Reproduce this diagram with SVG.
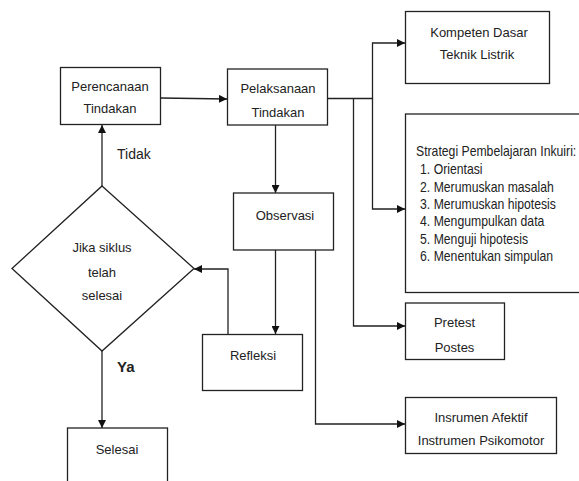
<svg xmlns="http://www.w3.org/2000/svg" width="579" height="481" viewBox="0 0 579 481">
<style>
.box{fill:#fff;stroke:#222;stroke-width:1.3}
.t{font-family:"Liberation Sans",Arial,sans-serif;font-size:13px;fill:#222;text-anchor:middle}
.s{font-family:"Liberation Sans",Arial,sans-serif;font-size:15px;fill:#222}
.lbl{font-family:"Liberation Sans",Arial,sans-serif;font-size:14px;fill:#222}
.c{fill:none;stroke:#222;stroke-width:1.3}
</style>
<defs>
<marker id="ah" markerUnits="userSpaceOnUse" markerWidth="8" markerHeight="8" refX="8" refY="4" orient="auto">
<path d="M0,0 L8,4 L0,8 z" fill="#111"/>
</marker>
</defs>
<rect width="579" height="481" fill="#fff"/>
<g id="connectors">
<path class="c" d="M161,98 L227,99" marker-end="url(#ah)"/>
<path class="c" d="M102,186 V125" marker-end="url(#ah)"/>
<path class="c" d="M275.5,125 V193" marker-end="url(#ah)"/>
<path class="c" d="M275.5,250 V334" marker-end="url(#ah)"/>
<path class="c" d="M228,334 V269 H194" marker-end="url(#ah)"/>
<path class="c" d="M102,351 V428" marker-end="url(#ah)"/>
<path class="c" d="M327,98.5 H372.5 V43 H405" marker-end="url(#ah)"/>
<path class="c" d="M372.5,98.5 V209 H405" marker-end="url(#ah)"/>
<path class="c" d="M353.5,98.5 V326 H405" marker-end="url(#ah)"/>
<path class="c" d="M315.5,250 V424 H405" marker-end="url(#ah)"/>
</g>
<g id="perencanaan">
<rect class="box" x="60.5" y="67.5" width="100" height="57"/>
<text class="t" x="110" y="90.5">Perencanaan</text>
<text class="t" x="110" y="113">Tindakan</text>
</g>
<g id="pelaksanaan">
<rect class="box" x="227.5" y="69" width="100" height="56"/>
<text class="t" x="278" y="93">Pelaksanaan</text>
<text class="t" x="278" y="116.5">Tindakan</text>
</g>
<g id="observasi">
<rect class="box" x="233.5" y="193" width="100" height="57"/>
<text class="t" x="285" y="219.5">Observasi</text>
</g>
<g id="refleksi">
<rect class="box" x="202.5" y="334.5" width="100" height="56"/>
<text class="t" x="253" y="359.5">Refleksi</text>
</g>
<g id="keputusan">
<polygon class="box" points="102,186 194,268.5 102,351 12,268.5"/>
<text class="t" x="102" y="251.5">Jika siklus</text>
<text class="t" x="102" y="276.5">telah</text>
<text class="t" x="102" y="299.5">selesai</text>
</g>
<g id="selesai">
<rect class="box" x="67.5" y="428" width="100" height="70"/>
<text class="t" x="117" y="453.5">Selesai</text>
</g>
<g id="kompeten">
<rect class="box" x="405.5" y="11.5" width="144" height="72"/>
<text class="t" x="479" y="36.5">Kompeten Dasar</text>
<text class="t" x="477" y="58.5">Teknik Listrik</text>
</g>
<g id="strategi">
<rect class="box" x="405.5" y="114" width="190" height="178.5"/>
<g transform="matrix(0.815,0,0,1,416,0)">
<text class="s" x="0" y="156.5">Strategi Pembelajaran Inkuiri:</text>
<text class="s" x="5" y="174.5">1. Orientasi</text>
<text class="s" x="5" y="191.8">2. Merumuskan masalah</text>
<text class="s" x="5" y="209.1">3. Merumuskan hipotesis</text>
<text class="s" x="5" y="226.4">4. Mengumpulkan data</text>
<text class="s" x="5" y="243.7">5. Menguji hipotesis</text>
<text class="s" x="5" y="261">6. Menentukan simpulan</text>
</g>
</g>
<g id="pretest">
<rect class="box" x="405.5" y="303" width="99" height="56.5"/>
<text class="t" x="454.5" y="326.5">Pretest</text>
<text class="t" x="454.5" y="351.5">Postes</text>
</g>
<g id="instrumen">
<rect class="box" x="405.5" y="397.5" width="151" height="56"/>
<text class="t" x="481" y="421.5">Insrumen Afektif</text>
<text class="t" x="481" y="444.5">Instrumen Psikomotor</text>
</g>
<g id="labels">
<text class="lbl" x="117" y="159">Tidak</text>
<text class="lbl" x="117" y="372" style="font-weight:bold;font-size:15px">Ya</text>
</g>
</svg>
